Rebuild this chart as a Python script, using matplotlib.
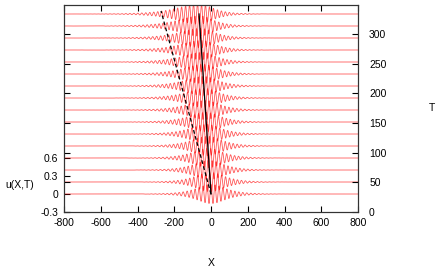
import numpy as np
import matplotlib
matplotlib.use("Agg")
import matplotlib.pyplot as plt

plt.rcParams['font.family'] = ['Liberation Sans', 'DejaVu Sans']

# wave packet parameters (one entry per time slice)
times = [0, 20, 40, 60, 80, 100, 120, 140, 160, 180, 200, 220, 240, 260, 280, 300]
offsets = [0.0, 0.2, 0.4, 0.6, 0.8, 1.0, 1.2, 1.4, 1.6, 1.8, 2.0, 2.2, 2.4, 2.6, 2.8, 3.0]
centers = [0, -4, -9, -13, -17, -22, -26, -30, -35, -39, -43, -48, -52, -56, -61, -65]
width_left = [70, 72, 74, 77, 79, 81, 84, 86, 88, 91, 93, 95, 98, 100, 102, 105]
width_right = [70, 70, 69, 69, 69, 68, 68, 68, 67, 67, 67, 66, 66, 66, 65, 65]
amps = [0.16, 0.16, 0.16, 0.16, 0.16, 0.16, 0.16, 0.16, 0.16, 0.16, 0.16, 0.16, 0.16, 0.16, 0.17, 0.17]
wavenumber = 0.29

# guide lines (X, u)
group_x = [0, -65]
group_u = [0.0, 3.0]
phase_x = [0, -272]
phase_u = [0.0, 3.05]

xticks = [-800, -600, -400, -200, 0, 200, 400, 600, 800]
uticks = [-0.3, 0, 0.3, 0.6]
tticks = [0, 50, 100, 150, 200, 250, 300]

fig = plt.figure(figsize=(4.36, 2.73), dpi=100)
ax = fig.add_axes([0.1468, 0.2234, 0.6743, 0.7583])

X = np.linspace(-800, 800, 3201)
for i in range(len(times)):
    c = centers[i]
    w = np.where(X < c, width_left[i], width_right[i])
    env = amps[i] / np.cosh((X - c) / w)
    u = env * np.cos(wavenumber * (X - c) + 0.05 * times[i])
    ax.plot(X, u + offsets[i], color='red', lw=0.6, alpha=0.65)

ax.plot(group_x, group_u, color='black', lw=0.9)
ax.plot(phase_x, phase_u, color='black', lw=0.9, dashes=(3, 2))

ax.set_xlim(-800, 800)
ax.set_ylim(-0.3, 3.15)
ax.set_xticks(xticks)
ax.set_xticklabels([str(v) for v in xticks])
ax.set_yticks(uticks)
ax.set_yticklabels(['-0.3', '0', '0.3', '0.6'])
ax.tick_params(direction='in', length=4, width=0.8, labelsize=7.5, top=True, pad=4)

ax2 = ax.twinx()
ax2.set_ylim(0, 349)
ax2.set_yticks(tticks)
ax2.yaxis.set_ticks_position('both')
ax2.tick_params(direction='in', length=4, width=0.8, labelsize=7.5, labelleft=False, labelright=True, pad=8)

for a in (ax, ax2):
    for sp in a.spines.values():
        sp.set_linewidth(0.8)
        sp.set_color('#333333')

fig.text(0.046, 0.322, 'u(X,T)', ha='center', va='center', fontsize=7.5)
fig.text(0.991, 0.604, 'T', ha='center', va='center', fontsize=7.5)
fig.text(0.484, 0.037, 'X', ha='center', va='center', fontsize=7.5)

fig.savefig('out.png', dpi=100)
